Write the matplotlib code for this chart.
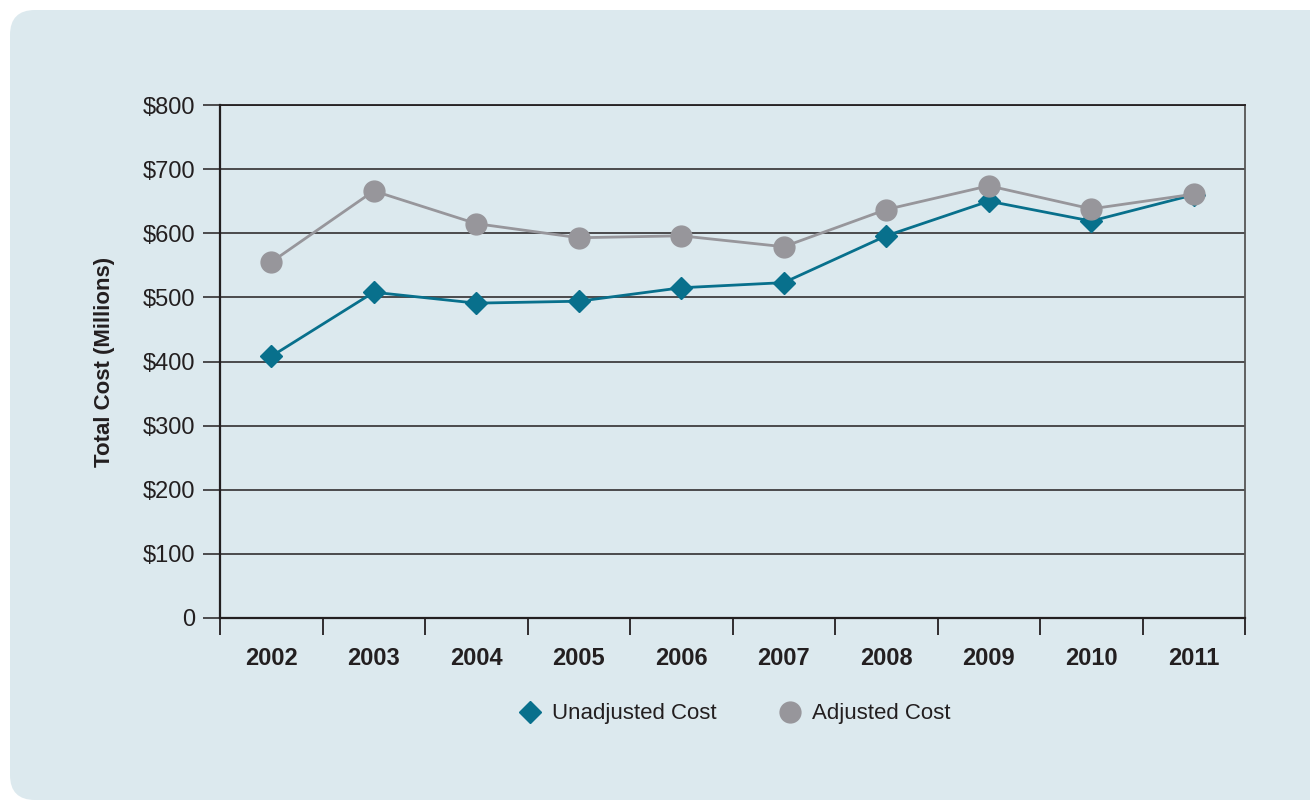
import matplotlib.pyplot as plt
from matplotlib.patches import FancyBboxPatch
from matplotlib.lines import Line2D

plt.rcParams['font.family'] = ['Liberation Sans', 'DejaVu Sans']

years = ['2002', '2003', '2004', '2005', '2006', '2007', '2008', '2009', '2010', '2011']
unadjusted = [408, 508, 491, 494, 515, 523, 596, 650, 619, 660]
adjusted = [555, 666, 615, 593, 596, 579, 637, 674, 638, 661]
yticks = [0, 100, 200, 300, 400, 500, 600, 700, 800]
ylabels = ['0', '$100', '$200', '$300', '$400', '$500', '$600', '$700', '$800']

bg = '#dce9ee'
teal = '#08708c'
grey = '#97969b'

fig = plt.figure(figsize=(13.1, 8.02), dpi=100)
fig.patch.set_facecolor('white')
# rounded panel behind everything, in inches
box = FancyBboxPatch((0.1, 0.02), 14, 7.9, boxstyle='round,pad=0,rounding_size=0.25',
                     transform=fig.dpi_scale_trans, facecolor=bg, edgecolor='none', zorder=-10)
fig.patches.append(box)

ax = fig.add_axes([220 / 1310, 1 - 618 / 802, 1025 / 1310, 513 / 802])
ax.set_facecolor(bg)

x = list(range(len(years)))
ax.plot(x, unadjusted, color=teal, lw=2, marker='D', ms=11, zorder=3)
ax.plot(x, adjusted, color=grey, lw=2, marker='o', ms=15, zorder=4)

ax.set_xlim(-0.5, len(years) - 0.5)
ax.set_ylim(0, 800)
ax.set_yticks(yticks)
ax.set_yticklabels(ylabels, fontsize=17, color='#231f20')
ax.yaxis.grid(True, color='#231f20', lw=1.1)
ax.set_axisbelow(True)
ax.tick_params(axis='y', length=12, width=1.1, color='#231f20', pad=6)

ax.set_xticks(x)
ax.set_xticklabels(years, fontsize=17, fontweight='bold', color='#231f20')
ax.set_xticks([i - 0.5 for i in range(len(years) + 1)], minor=True)
ax.tick_params(axis='x', which='major', length=0, pad=21)
ax.tick_params(axis='x', which='minor', length=12, width=1.3, color='#231f20')

for s in ['left', 'bottom']:
    ax.spines[s].set_color('#231f20')
    ax.spines[s].set_linewidth(1.6)
ax.spines['right'].set_color('#555555')
ax.spines['right'].set_linewidth(1.3)
ax.spines['top'].set_color('#231f20')
ax.spines['top'].set_linewidth(1.3)

ax.set_ylabel('Total Cost (Millions)', fontsize=16, fontweight='bold', color='#231f20', labelpad=20)

handles = [Line2D([], [], color=teal, marker='D', ms=11, ls='none'),
           Line2D([], [], color=grey, marker='o', ms=15, ls='none')]
fig.legend(handles, ['Unadjusted Cost', 'Adjusted Cost'], loc='center', bbox_to_anchor=(729 / 1310, 1 - 714 / 802),
           ncol=2, frameon=False, handletextpad=0.0, columnspacing=2.3,
           prop={'size': 16}, labelcolor='#231f20')

fig.savefig('out.png', dpi=100, facecolor=fig.get_facecolor())
